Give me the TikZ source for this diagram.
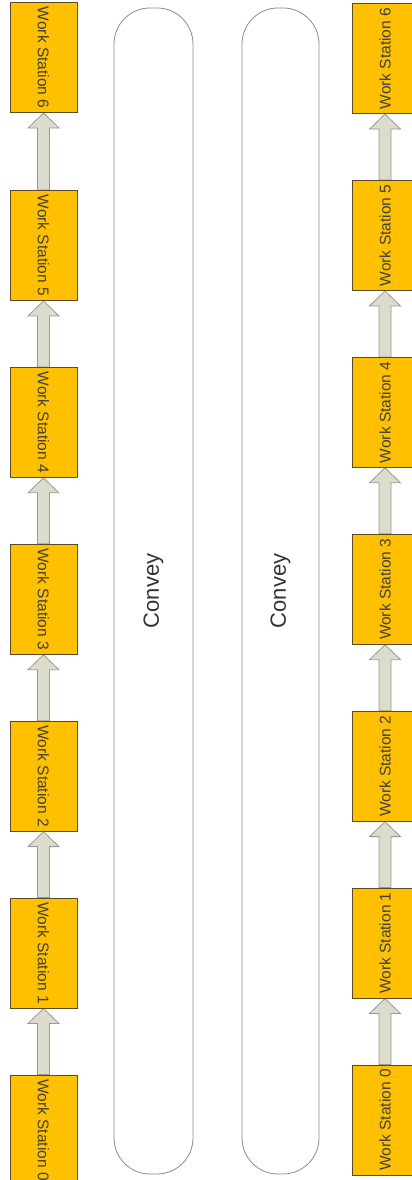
\documentclass[tikz,border=0pt]{standalone}
\usepackage{fontspec}
\setmainfont{Liberation Sans}
\usepackage{graphicx}
\usetikzlibrary{positioning,calc,backgrounds}
\definecolor{stationgold}{HTML}{FFC000}
\definecolor{stationedge}{HTML}{5A4A28}
\definecolor{flowfill}{HTML}{DCDCCC}
\definecolor{flowedge}{HTML}{9A9A90}
\definecolor{conveyedge}{HTML}{8C8C8C}

\newcommand{\flowarrow}[2]{%
  \draw[flow] ($(#1.north)+(-6,0)$) -- ($(#2.south)+(-6,-15)$) -- ($(#2.south)+(-15.5,-15)$) -- (#2.south)
    -- ($(#2.south)+(15.5,-15)$) -- ($(#2.south)+(6,-15)$) -- ($(#1.north)+(6,0)$) -- cycle;}

\begin{document}
\begin{tikzpicture}[x=1pt,y=1pt,
    station/.style={draw=stationedge,fill=stationgold,line width=0.9pt,minimum width=67pt,minimum height=110pt,inner sep=1pt,text=black!75,font=\fontsize{15.5}{18}\selectfont},
    convey/.style={draw=conveyedge,line width=0.8pt,minimum width=79pt,minimum height=1166pt,rounded corners=36pt,text=black!80,font=\fontsize{22}{26}\selectfont},
    flow/.style={draw=flowedge,fill=flowfill,line width=0.8pt}]
					\useasboundingbox (0,0) rectangle (412,1180);
					\clip (0,0) rectangle (412,1180);
					% left line
					\node[station] (l0) at (43.5,50) {\rotatebox{-90}{Work Station 0}};
					\node[station,above=66pt of l0] (l1) {\rotatebox{-90}{Work Station 1}};
					\node[station,above=66pt of l1] (l2) {\rotatebox{-90}{Work Station 2}};
					\node[station,above=66pt of l2] (l3) {\rotatebox{-90}{Work Station 3}};
					\node[station,above=66pt of l3] (l4) {\rotatebox{-90}{Work Station 4}};
					\node[station,above=66pt of l4] (l5) {\rotatebox{-90}{Work Station 5}};
					\node[station,above=77pt of l5] (l6) {\rotatebox{-90}{Work Station 6}};
					% conveyors
					\node[convey] (cv1) at (153.5,589) {\rotatebox{90}{Convey}};
					\node[convey,minimum width=77pt] (cv2) at (280.5,589) {\rotatebox{90}{Convey}};
					% right line
					\node[station,minimum width=66pt] (r0) at (385,60) {\rotatebox{90}{Work Station 0}};
					\node[station,minimum width=66pt,above=66pt of r0] (r1) {\rotatebox{90}{Work Station 1}};
					\node[station,minimum width=66pt,above=66pt of r1] (r2) {\rotatebox{90}{Work Station 2}};
					\node[station,minimum width=66pt,above=66pt of r2] (r3) {\rotatebox{90}{Work Station 3}};
					\node[station,minimum width=66pt,above=66pt of r3] (r4) {\rotatebox{90}{Work Station 4}};
					\node[station,minimum width=66pt,above=66pt of r4] (r5) {\rotatebox{90}{Work Station 5}};
					\node[station,minimum width=66pt,above=66pt of r5] (r6) {\rotatebox{90}{Work Station 6}};
					
					\begin{scope}[on background layer]
					\fill[white] (0,0) rectangle (412,1180);
					\flowarrow{l0}{l1}
					\flowarrow{l1}{l2}
					\flowarrow{l2}{l3}
					\flowarrow{l3}{l4}
					\flowarrow{l4}{l5}
					\flowarrow{l5}{l6}
					\flowarrow{r0}{r1}
					\flowarrow{r1}{r2}
					\flowarrow{r2}{r3}
					\flowarrow{r3}{r4}
					\flowarrow{r4}{r5}
					\flowarrow{r5}{r6}
					\end{scope}
				\end{tikzpicture}
\end{document}
